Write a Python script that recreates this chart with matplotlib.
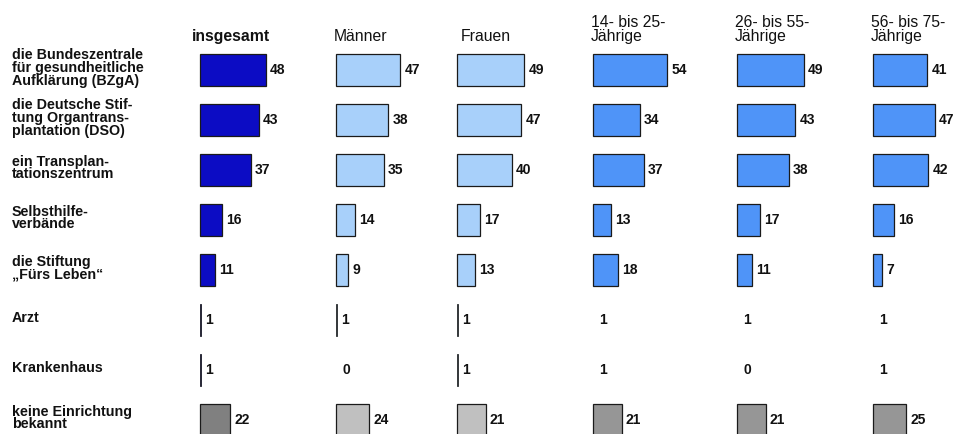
import matplotlib
matplotlib.use("Agg")
import matplotlib.pyplot as plt

plt.rcParams["font.family"] = ["Liberation Sans", "DejaVu Sans"]

# ---- data
categories = [
    "die Bundeszentrale\nfür gesundheitliche\nAufklärung (BZgA)",
    "die Deutsche Stif-\ntung Organtrans-\nplantation (DSO)",
    "ein Transplan-\ntationszentrum",
    "Selbsthilfe-\nverbände",
    "die Stiftung\n„Fürs Leben“",
    "Arzt",
    "Krankenhaus",
    "keine Einrichtung\nbekannt",
]
groups = ["insgesamt", "Männer", "Frauen", "14- bis 25-\nJährige", "26- bis 55-\nJährige", "56- bis 75-\nJährige"]
insgesamt = [48, 43, 37, 16, 11, 1, 1, 22]
maenner = [47, 38, 35, 14, 9, 1, 0, 24]
frauen = [49, 47, 40, 17, 13, 1, 1, 21]
age_14_25 = [54, 34, 37, 13, 18, 1, 1, 21]
age_26_55 = [49, 43, 38, 17, 11, 1, 0, 21]
age_56_75 = [41, 47, 42, 16, 7, 1, 1, 25]
series = [insgesamt, maenner, frauen, age_14_25, age_26_55, age_56_75]

# ---- styles
bar_colors = ["#0c0cc4", "#a8d0fa", "#a8d0fa", "#4f94f8", "#4f94f8", "#4f94f8"]
none_colors = ["#808080", "#c0c0c0", "#c0c0c0", "#969696", "#969696", "#969696"]
header_bold = [True, False, False, False, False, False]
hide_small = [False, False, False, True, True, True]   # age panels draw no bar for 1 %
panel_left_px = [200, 336, 457, 593, 737, 873]
header_left_px = [192, 334, 461, 591, 735, 871]
px_per_unit = [1.37, 1.37, 1.37, 1.37, 1.36, 1.32]

W, H = 955, 434
panel_w_px = 80
row0_px, row_step = 70, 50

fig = plt.figure(figsize=(W / 100, H / 100), dpi=100)

ylim = ((H - row0_px) / row_step, -row0_px / row_step)
rows = list(range(len(categories)))

for k, vals in enumerate(series):
    ax = fig.add_axes([panel_left_px[k] / W, 0, panel_w_px / W, 1])
    ax.set_xlim(0, panel_w_px / px_per_unit[k])
    ax.set_ylim(*ylim)
    ax.axis("off")
    colors = [bar_colors[k]] * (len(vals) - 1) + [none_colors[k]]
    widths = [0 if (v == 0 or (hide_small[k] and v <= 1)) else v for v in vals]
    bars = ax.barh(rows, widths, height=0.64, color=colors, edgecolor="#1a1a1a",
                   linewidth=0.9, align="center", clip_on=False)
    for b, w in zip(bars, widths):
        if w == 0:
            b.set_visible(False)
        elif w <= 1:
            b.set_linewidth(0.6)
    for r, v, w in zip(rows, vals, widths):
        off = 3.0 if w > 0 else 4.5
        ax.annotate(str(v), (w, r), xytext=(off, 0), textcoords="offset points",
                    ha="left", va="center", fontsize=10, fontweight="bold", color="#111111")
    fig.text(header_left_px[k] / W, 1 - 41 / H, groups[k], ha="left", va="baseline",
             fontsize=11.3, fontweight="bold" if header_bold[k] else "normal",
             linespacing=0.95, color="#111111")

for r, lab in enumerate(categories):
    y_px = row0_px + r * row_step - 2
    fig.text(12 / W, 1 - y_px / H, lab, ha="left", va="center", fontsize=10.3,
             fontweight="bold", linespacing=0.88, color="#111111")

fig.savefig("out.png", dpi=100)
